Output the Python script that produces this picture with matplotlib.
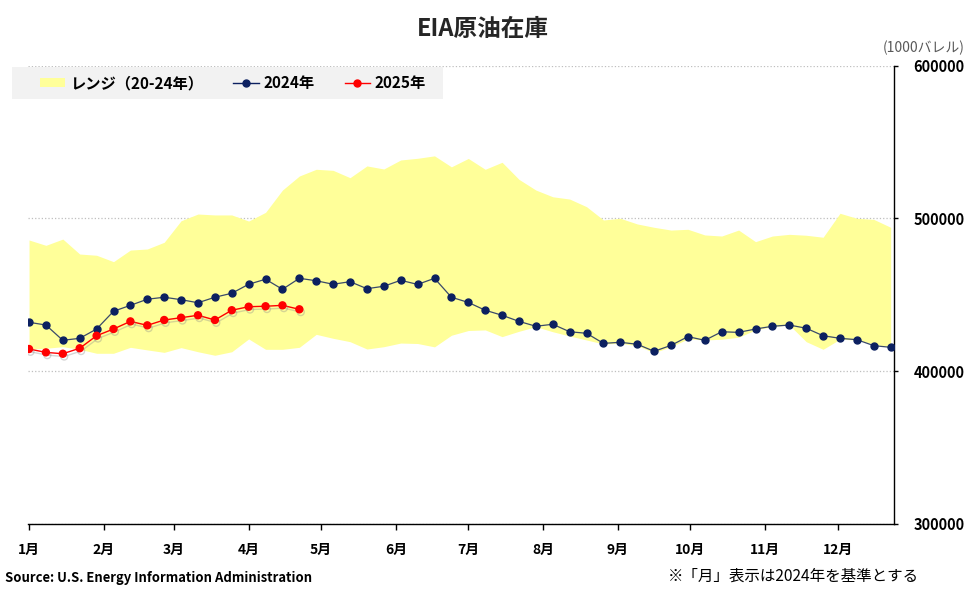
import matplotlib
matplotlib.use('Agg')
import matplotlib.pyplot as plt
import matplotlib.patheffects as pe
from matplotlib.patches import Rectangle, Patch
from matplotlib.lines import Line2D
import numpy as np

plt.rcParams['font.family'] = ['Noto Sans CJK JP', 'DejaVu Sans']

# 週次データ（1000バレル）
stock_2024 = [431900, 430100, 420100, 421400, 427500, 439100, 443000, 447000, 448300, 446700,
              444700, 448300, 450900, 456800, 460100, 453500, 460700, 459100, 456800, 458500,
              453900, 455500, 459400, 456700, 460700, 448300, 444900, 439800, 436500, 432500,
              429300, 430600, 425700, 424700, 418100, 418800, 417500, 412900, 416800, 422500,
              420100, 425700, 425300, 427500, 429300, 430100, 428000, 423100, 421400, 420500,
              416600, 415500]
stock_2025 = [414400, 412200, 411300, 414900, 423100, 427500, 432500, 429900, 433400, 434900,
              436500, 433400, 439800, 442100, 442400, 443000, 440400]
range_high = [485800, 482300, 486400, 476600, 475800, 471600, 479200, 479900, 484300, 498400,
              502800, 502200, 502200, 498200, 503900, 518500, 527700, 532100, 531400, 526600,
              534300, 532300, 538200, 539300, 540900, 533700, 539200, 532100, 536700, 525500,
              518500, 514100, 512600, 507600, 498900, 500000, 496300, 494100, 492300, 492800,
              489100, 488400, 492300, 484700, 488400, 489500, 488900, 487600, 503300, 500000,
              499300, 494100]
range_low = [414200, 414900, 415900, 414200, 411600, 411600, 415500, 413800, 412200, 415300,
             412600, 410300, 412600, 421000, 414200, 414200, 415500, 424000, 421400, 419200,
             414400, 415900, 418300, 418000, 415800, 423400, 426500, 426900, 422500, 426000,
             429000, 425700, 422900, 420300, 417700, 418100, 416600, 412000, 415900, 421000,
             420300, 420800, 422100, 426900, 429000, 430100, 419200, 414200, 420800, 420300,
             417700, 415500]

month_labels = ['1月', '2月', '3月', '4月', '5月', '6月', '7月', '8月', '9月', '10月', '11月', '12月']
month_days = [0, 31, 60, 91, 121, 152, 182, 213, 244, 274, 305, 335]

days_2024 = np.arange(len(stock_2024)) * 7
days_2025 = np.arange(len(stock_2025)) * 7

fig = plt.figure(figsize=(9.67, 5.9), dpi=100)
ax = fig.add_axes([28.3 / 967, 66.3 / 590, 866 / 967, 458.1 / 590])

ax.fill_between(days_2024, range_low, range_high, color='#FFFF99', lw=0, zorder=1)
ax.plot(days_2024, stock_2024, color='#3A4A6A', lw=0.9, marker='o', ms=5,
        mfc='#0C2060', mec='#0C2060', zorder=3)
ax.plot(days_2025, stock_2025, color='#FF0000', lw=1.0, marker='o', ms=5,
        mfc='#FF0000', mec='#FF0000', zorder=4,
        path_effects=[pe.SimpleLineShadow(offset=(1, -2), shadow_color='#888888', alpha=0.35),
                      pe.Normal()])

ax.set_xlim(-0.3, 358.5)
ax.set_ylim(300000, 600000)
ax.set_yticks([300000, 400000, 500000, 600000])
ax.set_xticks(month_days)
ax.set_xticklabels(month_labels)
ax.yaxis.tick_right()
ax.yaxis.set_label_position('right')
ax.grid(axis='y', color='#BFBFBF', ls=':', lw=0.9)
ax.set_axisbelow(True)

for side in ['left', 'top']:
    ax.spines[side].set_visible(False)
for side in ['right', 'bottom']:
    ax.spines[side].set_color('black')
    ax.spines[side].set_linewidth(1.0)

ax.tick_params(axis='y', direction='out', length=3, width=1, pad=11, labelsize=10.5)
ax.tick_params(axis='x', direction='out', length=4, width=1, pad=10, labelsize=10)
for lab in ax.get_xticklabels() + ax.get_yticklabels():
    lab.set_fontweight('bold')

fig.text(483 / 967, 1 - 29 / 590, 'EIA原油在庫', ha='center', va='center',
         fontsize=17, fontweight='bold', color='#262626')
fig.text(965 / 967, 1 - 48 / 590, '(1000バレル)', ha='right', va='center',
         fontsize=10, color='#595959')
fig.text(5 / 967, 1 - 578 / 590, 'Source: U.S. Energy Information Administration',
         ha='left', va='center', fontsize=9.4, fontweight='bold', color='black')
fig.text(668 / 967, 1 - 576 / 590, '※「月」表示は2024年を基準とする',
         ha='left', va='center', fontsize=11.2, color='black')

# 凡例
fig.patches.append(Rectangle((12 / 967, 1 - 99 / 590), 431 / 967, 32 / 590,
                             transform=fig.transFigure, facecolor='#F2F2F2',
                             edgecolor='none', zorder=5))
handles = [Patch(facecolor='#FFFF99', edgecolor='none'),
           Line2D([0], [0], color='#0C2060', lw=1, marker='o', ms=5),
           Line2D([0], [0], color='#FF0000', lw=1, marker='o', ms=5)]
leg = fig.legend(handles, ['レンジ（20-24年）', '2024年', '2025年'], ncol=3,
                 loc='center left', bbox_to_anchor=(40 / 967, 1 - 83 / 590),
                 frameon=False, borderpad=0, borderaxespad=0, handlelength=1.65,
                 handleheight=0.6, handletextpad=0.3, columnspacing=2.0,
                 prop={'size': 11, 'weight': 'bold'})
leg.set_zorder(6)

fig.savefig('out.png', dpi=100)
